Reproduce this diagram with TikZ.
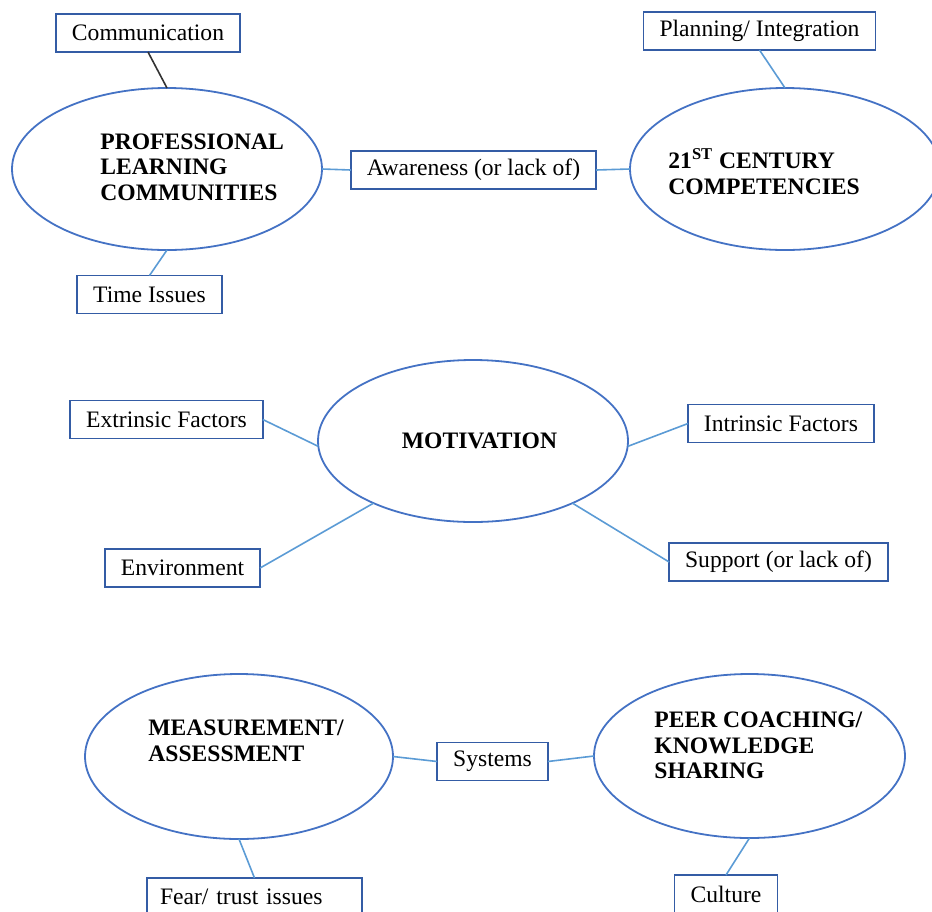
\documentclass[tikz,border=0pt]{standalone}
\usepackage{fontspec}
\setmainfont{Liberation Serif}
\usetikzlibrary{shapes}
\definecolor{rimblue}{RGB}{68,114,196}
\definecolor{boxblue}{RGB}{52,92,165}
\definecolor{lineblue}{RGB}{91,155,213}
\tikzstyle{bubble} = [draw=rimblue, line width=0.9pt, ellipse, inner sep=0pt,
    outer sep=0pt, minimum width=155pt, minimum height=81pt]
\tikzstyle{box} = [draw=boxblue, line width=0.8pt, rectangle, inner xsep=8pt,
    inner ysep=0pt, outer sep=0pt, minimum height=19pt, font=\fontsize{11.8}{14}\selectfont]
\tikzstyle{title} = [align=left, inner sep=0pt,
    font=\fontsize{11.8}{12.8}\selectfont\bfseries]
\tikzstyle{link} = [draw=lineblue, line width=0.8pt]

\begin{document}
\begin{tikzpicture}[x=0.5pt, y=-0.5pt]
\useasboundingbox (0,0) rectangle (932,911);
\clip (0,0) rectangle (932,911);

% top row
\node[bubble, name=plc] at (167,169) {};
\node[title, anchor=west, name=plctext] at (100,167) {PROFESSIONAL\\LEARNING\\COMMUNITIES};
\node[bubble, name=cent] at (785,169) {};
\node[title, anchor=west, name=centtext] at (668,171.5) {21\textsuperscript{ST} CENTURY\\COMPETENCIES};

\node[box, name=comm] at (148,33) {Communication};
\node[box, name=time] at (149.5,294.5) {Time Issues};
\node[box, name=aware] at (473.5,170) {Awareness (or lack of)};
\node[box, name=plan] at (759.5,31) {Planning/ Integration};

\draw[draw=black!80, line width=0.8pt] (comm.south) -- (plc.north);
\draw[link] (plc.south) -- (time.north);
\draw[link] (plc.east) -- (aware.west);
\draw[link] (aware.east) -- (cent.west);
\draw[link] (plan.south) -- (cent.north);

% middle row
\node[bubble, name=mot] at (473,441) {};
\node[title, name=mottext] at (479.5,441) {MOTIVATION};

\node[box, name=extr] at (166.5,419.5) {Extrinsic Factors};
\node[box, name=intr] at (781,423.5) {Intrinsic Factors};
\node[box, name=env] at (182.5,568) {Environment};
\node[box, name=supp] at (778.5,562) {Support (or lack of)};

\draw[link] (extr.east) -- (mot.182);
\draw[link] (mot.-2) -- (intr.west);
\draw[link] (env.east) -- (mot.212);
\draw[link] (mot.-32) -- (supp.west);

% bottom row
\node[bubble, name=meas, minimum width=154pt, minimum height=82.5pt] at (239,756.5) {};
\node[title, anchor=west, name=meastext] at (148,741) {MEASUREMENT/\\ASSESSMENT};
\node[bubble, name=peer, minimum width=155.5pt, minimum height=82pt] at (749.5,756) {};
\node[title, anchor=west, name=peertext] at (654,745.5) {PEER COACHING/\\KNOWLEDGE\\SHARING};

\node[box, name=sys] at (492.5,761.5) {Systems};
\node[box, name=fear, minimum width=107.5pt, inner xsep=6.5pt, text width=94.5pt, align=left] at (254.5,897) {Fear/ trust issues};
\node[box, name=cult] at (726,894) {Culture};

\draw[link] (meas.east) -- (sys.west);
\draw[link] (sys.east) -- (peer.west);
\draw[link] (meas.south) -- (fear.north);
\draw[link] (peer.south) -- (cult.north);

\end{tikzpicture}
\end{document}
